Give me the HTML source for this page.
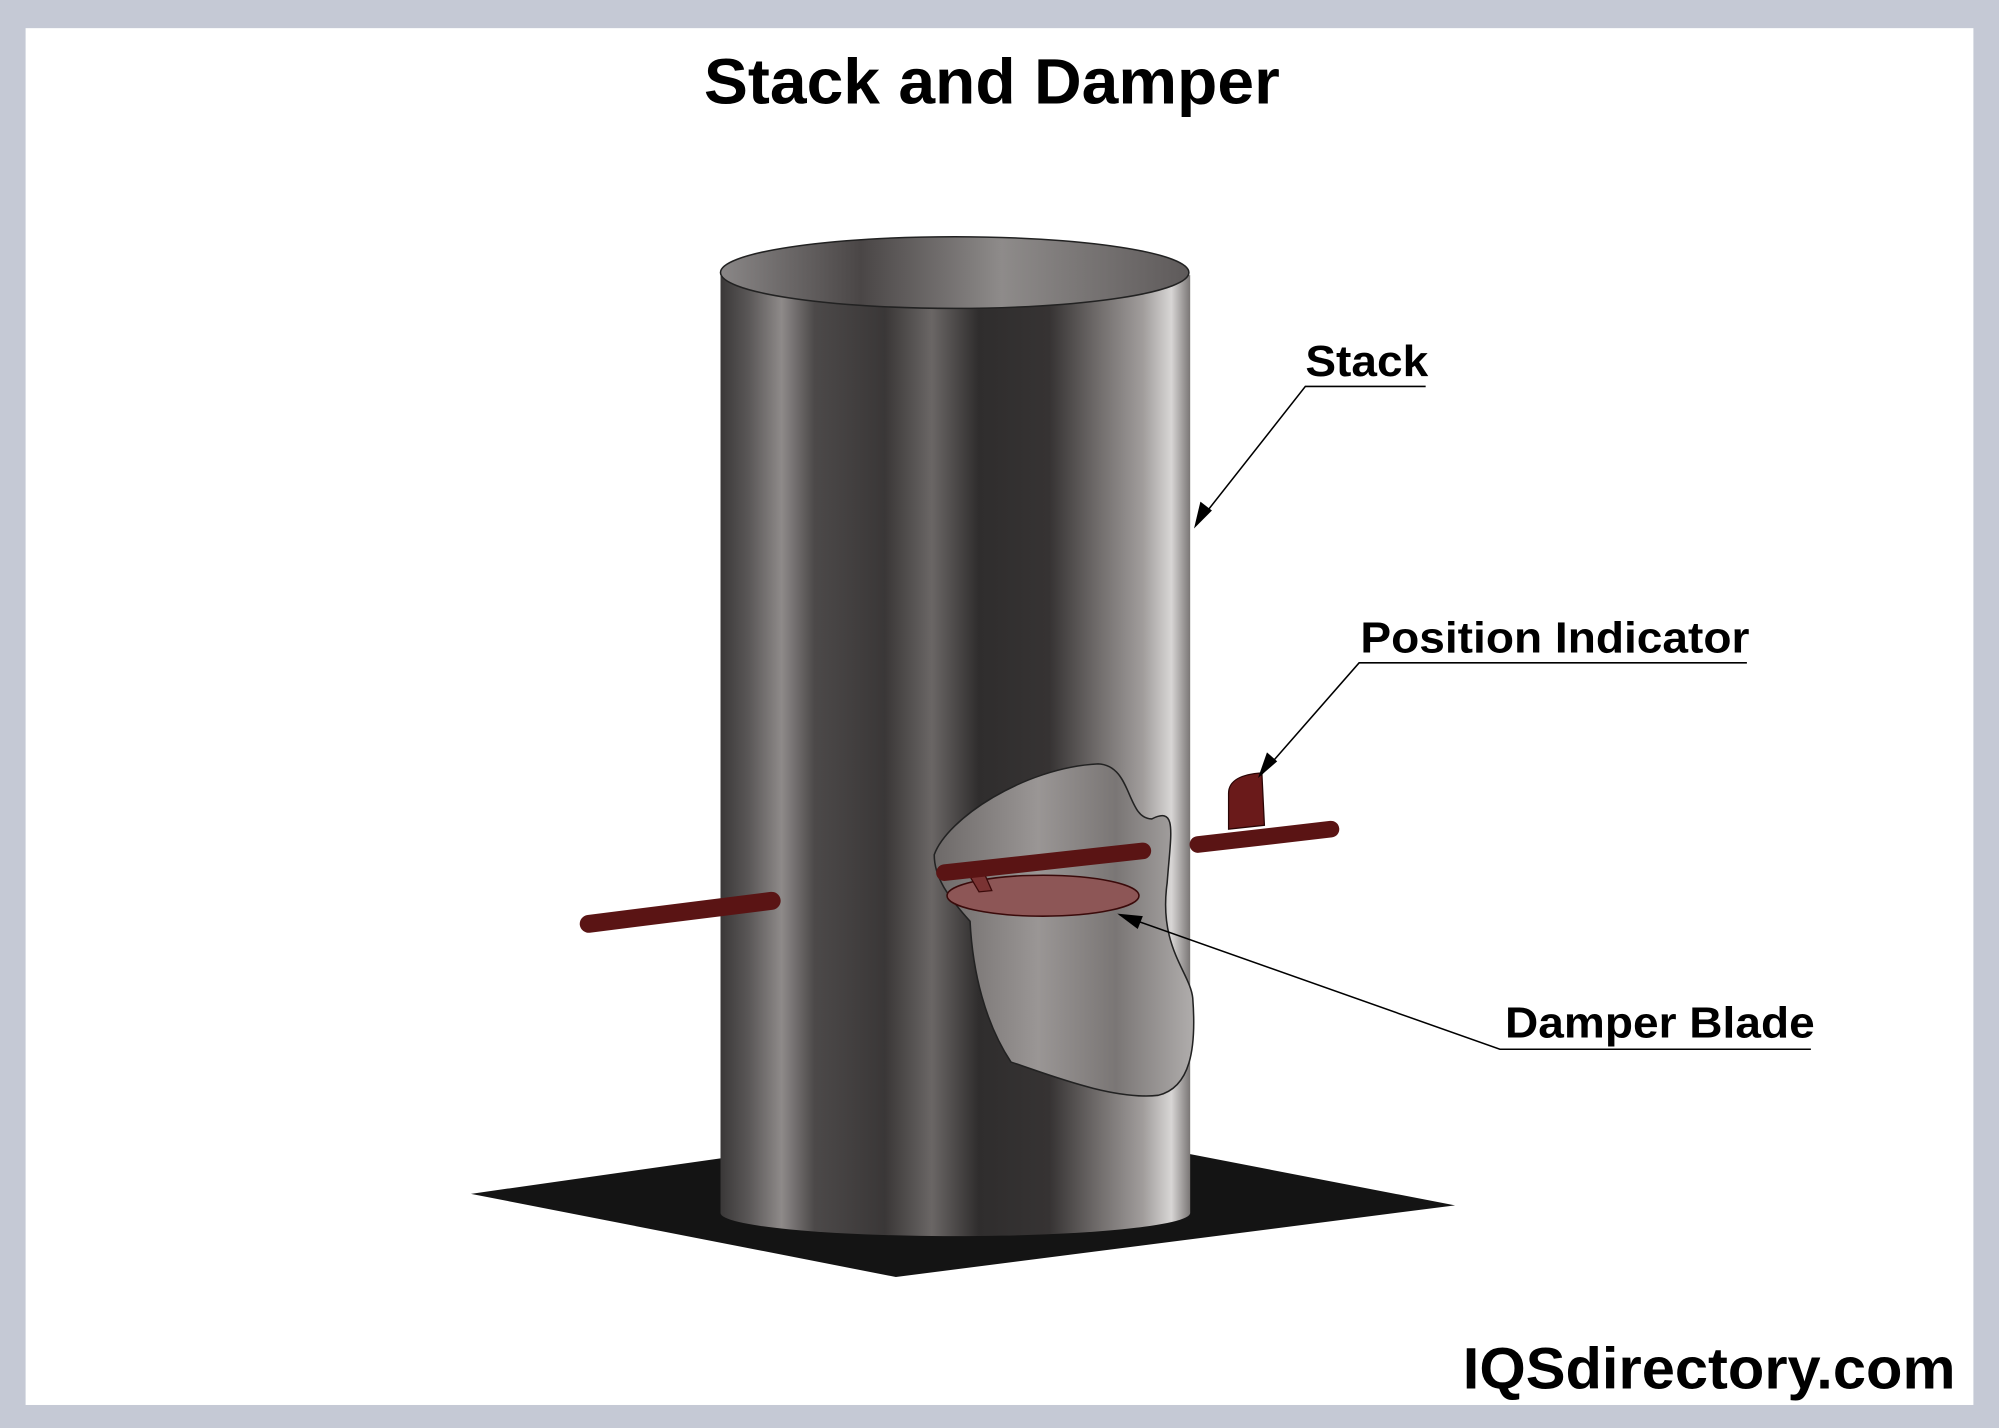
<!DOCTYPE html>
<html><head><meta charset="utf-8"><style>
html,body{margin:0;padding:0;background:#fff;}
svg{display:block;}
text{font-family:"Liberation Sans",Arial,sans-serif;font-weight:bold;fill:#000;}
</style></head><body>
<svg width="1999" height="1428" viewBox="0 0 1562 1116" preserveAspectRatio="none" xmlns="http://www.w3.org/2000/svg">
<defs>
<linearGradient id="cyl" x1="0" x2="1" y1="0" y2="0">
<stop offset="0" stop-color="#3a3838"/>
<stop offset="0.06" stop-color="#5a5757"/>
<stop offset="0.13" stop-color="#8e8a89"/>
<stop offset="0.2" stop-color="#4c4949"/>
<stop offset="0.35" stop-color="#3a3737"/>
<stop offset="0.45" stop-color="#6a6665"/>
<stop offset="0.55" stop-color="#2f2d2d"/>
<stop offset="0.7" stop-color="#363333"/>
<stop offset="0.8" stop-color="#6e6a69"/>
<stop offset="0.9" stop-color="#a19d9c"/>
<stop offset="0.96" stop-color="#d8d6d5"/>
<stop offset="1" stop-color="#7a7675"/>
</linearGradient>
<linearGradient id="inner" x1="0" x2="1">
<stop offset="0" stop-color="#8a8787"/>
<stop offset="0.3" stop-color="#4a4646"/>
<stop offset="0.6" stop-color="#8e8b8a"/>
<stop offset="1" stop-color="#5e5a5a"/>
</linearGradient>
<linearGradient id="cut" x1="0" x2="1">
<stop offset="0" stop-color="#6d6968"/>
<stop offset="0.4" stop-color="#9a9695"/>
<stop offset="0.7" stop-color="#7a7675"/>
<stop offset="1" stop-color="#b0adac"/>
</linearGradient>
</defs>
<rect x="0" y="0" width="1562" height="1116" fill="#c5c9d5"/>
<rect x="20" y="22" width="1522" height="1076" fill="#fff"/>
<text x="775" y="81" font-size="50" text-anchor="middle" textLength="450" lengthAdjust="spacingAndGlyphs">Stack and Damper</text>
<!-- base plate -->
<polygon points="368,933 565,905 930,902 1137,942 700,998" fill="#141414"/>
<!-- cylinder -->
<path d="M563,215 L563,948 A183,18 0 0 0 930,948 L930,215 Z" fill="url(#cyl)"/>
<ellipse cx="746" cy="213" rx="183" ry="28" fill="url(#inner)" stroke="#222" stroke-width="1.2"/>
<!-- rods left -->
<line x1="460" y1="722" x2="603" y2="704" stroke="#5a1414" stroke-width="14" stroke-linecap="round"/>
<!-- cutout -->
<path d="M730,668 C740,640 800,600 858,597 C885,598 880,640 900,640 C920,630 915,650 912,690 C905,740 930,760 932,780 C935,820 930,850 905,856 C870,860 820,840 790,830 C770,800 760,760 758,720 C740,700 730,685 730,668 Z" fill="url(#cut)" stroke="#222" stroke-width="1.2"/>
<!-- damper blade -->
<ellipse cx="815" cy="700" rx="75" ry="16" fill="#8d5656" stroke="#3a0a0a" stroke-width="1.2"/>
<path d="M755,680 L765,697 L775,696 L768,680 Z" fill="#7a3333" stroke="#3a0a0a" stroke-width="1"/>
<!-- rods right -->
<line x1="738" y1="682" x2="893" y2="665" stroke="#5a1414" stroke-width="13" stroke-linecap="round"/>
<line x1="936" y1="660" x2="1040" y2="648" stroke="#5a1414" stroke-width="13" stroke-linecap="round"/>
<path d="M960,648 L960,620 C960,610 970,605 986,604 L988,645 Z" fill="#6a1a1a" stroke="#2a0505" stroke-width="1"/>
<!-- labels -->
<g stroke="#000" stroke-width="1.2" fill="none">
<polyline points="1114,302 1020,302 935,410"/>
<polyline points="1365,518 1062,518 985,606"/>
<polyline points="1415,820 1172,820 875,715"/>
</g>
<polygon points="933,413 938,392 947,399" fill="#000"/>
<polygon points="983,608 990,588 998,595" fill="#000"/>
<polygon points="873,714 893,716 889,726" fill="#000"/>
<text x="1020" y="294" font-size="34" textLength="96" lengthAdjust="spacingAndGlyphs">Stack</text>
<text x="1063" y="510" font-size="34" textLength="304" lengthAdjust="spacingAndGlyphs">Position Indicator</text>
<text x="1176" y="811" font-size="34" textLength="242" lengthAdjust="spacingAndGlyphs">Damper Blade</text>
<text x="1143" y="1085" font-size="46" textLength="385" lengthAdjust="spacingAndGlyphs">IQSdirectory.com</text>
</svg>
</body></html>
